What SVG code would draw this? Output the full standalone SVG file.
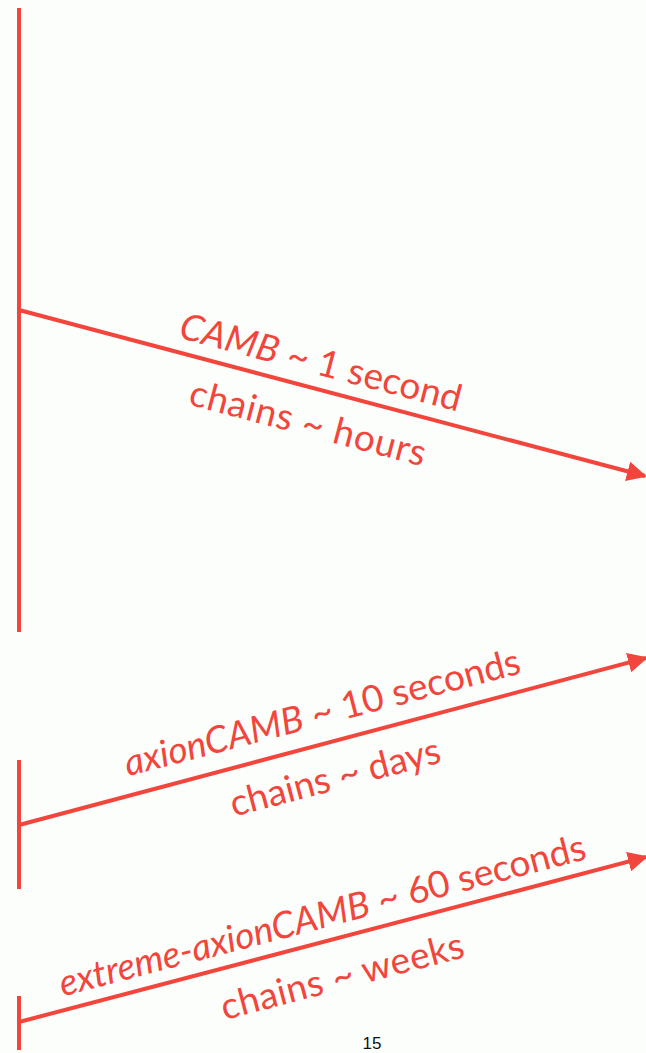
<svg xmlns="http://www.w3.org/2000/svg" width="646" height="1053" viewBox="0 0 646 1053">
<defs>
<style>
.ln{stroke:#f2453c;stroke-width:4;fill:none}
.t{font-family:Lato,"Open Sans",sans-serif;font-size:37px;fill:#f2453c;text-anchor:middle}
.it{font-style:italic}
.pg{font-family:"Liberation Sans",Arial,sans-serif;font-size:17px;fill:#111;text-anchor:middle}
</style>
<marker id="ah" viewBox="0 0 10 10" refX="9" refY="5" markerWidth="5" markerHeight="5" markerUnits="strokeWidth" orient="auto">
<path d="M0,0 L10,5 L0,10 z" fill="#f2453c"/>
</marker>
</defs>
<rect width="646" height="1053" fill="#fbfefb"/>
<g id="timelines">
<line class="ln" x1="19" y1="8" x2="19" y2="632"/>
<line class="ln" x1="19" y1="760" x2="19" y2="889"/>
<line class="ln" x1="19" y1="996" x2="19" y2="1050"/>
</g>
<g id="connectors">
<line class="ln" x1="19" y1="310" x2="645" y2="476" marker-end="url(#ah)"/>
<line class="ln" x1="19" y1="825" x2="646" y2="658" marker-end="url(#ah)"/>
<line class="ln" x1="19" y1="1022" x2="646" y2="857" marker-end="url(#ah)"/>
</g>
<g id="label-camb" transform="translate(321,362) rotate(14.8)">
<text class="t" y="13" textLength="290"><tspan class="it">CAMB</tspan> ~ 1 second</text>
<text class="t" x="3" y="75" textLength="243">chains ~ hours</text>
</g>
<g id="label-axioncamb" transform="translate(322,712) rotate(-14.7)">
<text class="t" y="13" textLength="408"><tspan class="it">axionCAMB</tspan> ~ 10 seconds</text>
<text class="t" x="-4" y="79" textLength="216">chains ~ days</text>
</g>
<g id="label-extreme" transform="translate(322,915) rotate(-14.7)">
<text class="t" y="13" textLength="543"><tspan class="it">extreme-axionCAMB</tspan> ~ 60 seconds</text>
<text class="t" x="4" y="77" textLength="250">chains ~ weeks</text>
</g>
<text class="pg" x="372" y="1049">15</text>
</svg>
